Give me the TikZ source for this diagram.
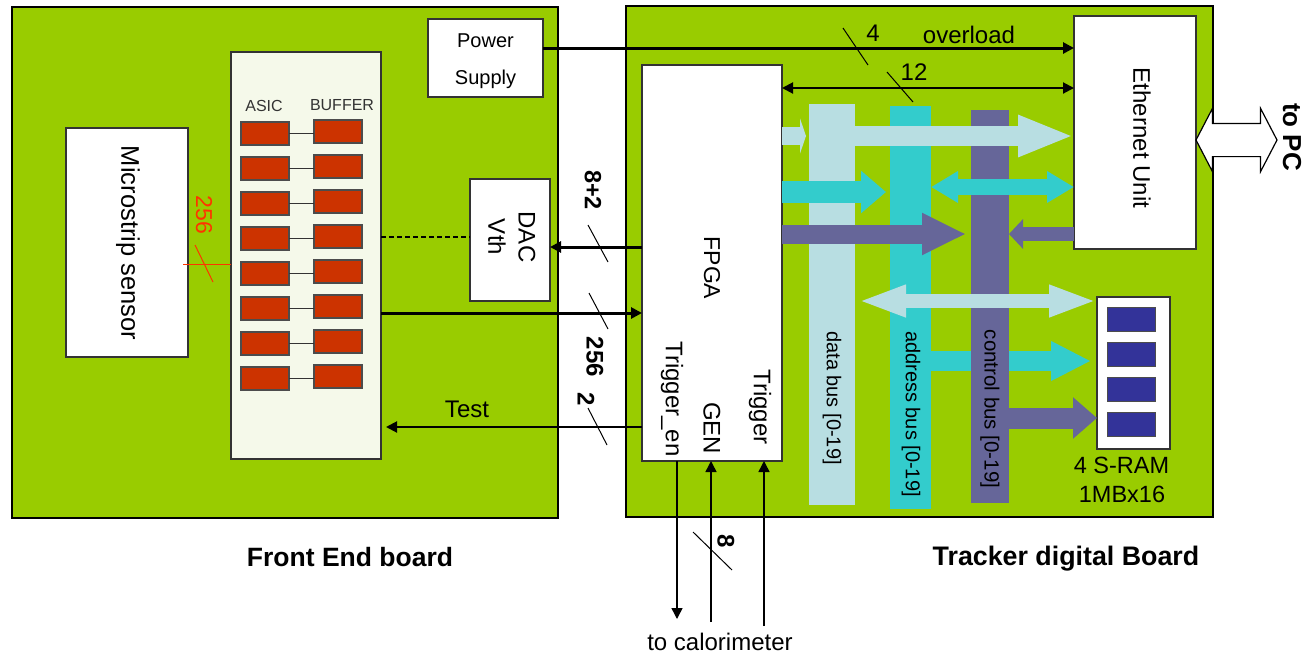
\documentclass[tikz,border=0pt]{standalone}
\usepackage{xcolor}
\usepackage{fontspec}
\setmainfont{Liberation Sans}
\usepackage{tikz}
\usetikzlibrary{positioning,arrows.meta,shapes.arrows,calc}
\definecolor{boardc}{HTML}{99CC00}
\definecolor{panelc}{HTML}{F5F9EA}
\definecolor{chipc}{HTML}{CC3300}
\definecolor{sramc}{HTML}{333399}
\definecolor{datac}{HTML}{B8DEE2}
\definecolor{addrc}{HTML}{33CCCC}
\definecolor{ctrlc}{HTML}{666699}
\definecolor{redc}{HTML}{FF3300}
\newcommand{\fsz}[1]{\fontsize{#1pt}{#1pt}\selectfont}

\begin{document}
\begin{tikzpicture}[
		x=1pt,y=-1pt,
		box/.style={draw=black!80,line width=1.2pt,fill=white,inner sep=0pt,outer sep=0pt,anchor=north west},
		board/.style={box,draw=black,fill=boardc},
		bar/.style={inner sep=0pt,outer sep=0pt,anchor=north west},
		chip/.style={draw=black!70,line width=1.2pt,fill=chipc,inner sep=0pt,outer sep=0pt,minimum width=48pt,minimum height=23pt},
		ram/.style={draw=black!70,line width=1pt,fill=sramc,inner sep=0pt,outer sep=0pt,minimum width=48pt,minimum height=24pt},
		txt/.style={inner sep=0pt,font=\fsz{24}},
		vtxt/.style={txt,rotate=-90},
		ar/.style={-{Triangle[length=11pt,width=11pt]},line width=#1},
		ar/.default=2.5pt,
		tick/.style={line width=1pt},
		blk/.style n args={3}{line width=#1,-{Triangle[length=#2,width=#3]}},
		dblk/.style n args={3}{line width=#1,arrows={Triangle[length=#2,width=#3]}-{Triangle[length=#2,width=#3]}}
		]
		\useasboundingbox (0,0) rectangle (1307,654);

		% boards
		\node[board,minimum width=546pt,minimum height=511pt] (fe) at (12,7) {};
		\node[board,minimum width=587pt,minimum height=511pt] (td) at (626,6) {};
		\node[txt,font=\bfseries\fsz{26.5}] (fetitle) at (350,557) {Front End board};
		\node[txt,font=\bfseries\fsz{26.8}] (tdtitle) at (1066,559) {Tracker digital Board};

		% front end board
		\node[box,minimum width=122pt,minimum height=229pt] (sensor) at (66,128) {};
		\node[vtxt,font=\fsz{25.5}] (sensortxt) at (128,243) {Microstrip sensor};
		\node[box,fill=panelc,minimum width=150pt,minimum height=407pt] (panel) at (231,52) {};
		\node[box,minimum width=115pt,minimum height=78pt] (power) at (428,19) {};
		\node[txt,align=center,font=\fontsize{20pt}{37pt}\selectfont] (powertxt) at (485.5,61) {Power\\Supply};
		\node[box,minimum width=80pt,minimum height=122pt] (dac) at (470,179) {};
		\node[vtxt] (dactxt) at (527,237) {DAC};
		\node[vtxt] (vthtxt) at (497,237) {Vth};

		\foreach \i in {1,...,8} {
			\node[chip] (asic\i) at (265,{133.5+35*(\i-1)}) {};
			\node[chip,right=25pt of asic\i,yshift=2pt] (buf\i) {};
			\draw[line width=1.2pt,black!80] (asic\i.east) -- (asic\i.east -| buf\i.west);
		}
		\node[txt,font=\fsz{16},text=black!80,above=10pt of asic1,xshift=-1pt] (asictxt) {ASIC};
		\node[txt,font=\fsz{16},text=black!80,above=9pt of buf1,xshift=4pt] (buftxt) {BUFFER};

		% tracker board
		\node[box,minimum width=140pt,minimum height=396pt] (fpga) at (642,65) {};
		\node[vtxt,font=\fsz{23}] (fpgatxt) at (712,268) {FPGA};
		\node[vtxt] (trgentxt) at (672,399) {Trigger\_en};
		\node[vtxt] (gentxt) at (712,428) {GEN};
		\node[vtxt] (trgtxt) at (760,407) {Trigger};
		\node[box,minimum width=122pt,minimum height=233pt] (eth) at (1074,16) {};
		\node[vtxt] (ethtxt) at (1142,138) {Ethernet Unit};
		\node[box,minimum width=73pt,minimum height=152pt] (sram) at (1097,297) {};
		\foreach \i/\ypos in {1/319,2/354.5,3/389.5,4/424}
			\node[ram] (ram\i) at (1131,\ypos) {};
		\node[txt,below=8pt of sram,xshift=-12pt,font=\fsz{23.5}] (sramtxt) {4 S-RAM};
		\node[txt,font=\fsz{23.5}] (sramsize) at (1122,494) {1MBx16};

		% buses
		\node[bar,fill=datac,minimum width=46pt,minimum height=401pt] (dbus) at (809,104) {};
		\node[bar,fill=addrc,minimum width=41pt,minimum height=403pt] (abus) at (890,106) {};
		\draw[addrc,blk={20pt}{40pt}{37pt},shorten >=6pt] (abus.east |- 0,361) -- (sram.west |- 0,361);
		\node[bar,fill=ctrlc,minimum width=38pt,minimum height=393pt] (cbus) at (971,110) {};
		\node[vtxt,font=\fsz{20}] (dbustxt) at (832,398) {data bus [0-19]};
		\node[vtxt,font=\fsz{20}] (abustxt) at (911,414) {address bus [0-19]};
		\node[vtxt,font=\fsz{20.5}] (cbustxt) at (990,409) {control bus [0-19]};

		% block arrows
		\draw[datac,blk={18pt}{6pt}{35pt},shorten >=3pt] (fpga.east |- 0,136) -- (dbus.west |- 0,136);
		\draw[datac,blk={20pt}{56pt}{38pt}] (dbus.east |- 0,136) -- (eth.west |- 0,136);
		\draw[addrc,blk={22pt}{25pt}{41pt},shorten >=4pt] (fpga.east |- 0,192) -- (abus.west |- 0,192);
		\draw[addrc,dblk={16pt}{27pt}{30pt}] (abus.east |- 0,187) -- (eth.west |- 0,187);
		\draw[ctrlc,blk={19pt}{44pt}{39pt},shorten >=5pt] (fpga.east |- 0,234) -- (cbus.west |- 0,234);
		\draw[ctrlc,blk={14pt}{14pt}{29pt}] (eth.west |- 0,234) -- (cbus.east |- 0,234);
		\draw[datac,dblk={14pt}{48pt}{29pt},shorten <=3pt] (dbus.east |- 0,301) -- (sram.west |- 0,301);
		\draw[ctrlc,blk={21pt}{24pt}{40pt}] (cbus.east |- 0,418) -- (sram.west |- 0,418);

		% outgoing link
		\node[draw=black,fill=white,line width=1.2pt,double arrow,double arrow tip angle=125,double arrow head extend=15pt,minimum width=62pt,minimum height=81pt,inner xsep=0pt,inner ysep=16pt] (topc) at (1236.5,140) {};
		\node[vtxt,font=\bfseries\fsz{26}] (topctxt) at (1292,137) {to PC};

		% signal lines
		\draw[ar=3pt] (power.east |- 0,48) -- (eth.west |- 0,48);
		\draw[ar=2pt,arrows={Triangle[length=11pt,width=11pt]}-{Triangle[length=11pt,width=11pt]}] (fpga.east |- 0,88) -- (eth.west |- 0,88);
		\draw[ar=3pt] (fpga.west |- 0,247) -- (dac.east |- 0,247);
		\draw[ar=3pt] (panel.east |- 0,313) -- (fpga.west |- 0,313);
		\draw[ar=2pt,shorten >=5pt] (fpga.west |- 0,427) -- (panel.east |- 0,427);
		\draw[line width=1.3pt,dash pattern=on 5pt off 3pt] (panel.east |- 0,237) -- (dac.west |- 0,237);
		\coordinate (trgen) at (677,619);
		\coordinate (genin) at (711,622);
		\coordinate (trgin) at (764,626);
		\draw[ar=1.5pt] (fpga.south -| trgen) -- (trgen);
		\draw[ar=1.5pt] (genin) -- (genin |- fpga.south);
		\draw[ar=1.5pt] (trgin) -- (trgin |- fpga.south);
		\coordinate (redstart) at (183,264);
		\draw[redc,line width=1pt] (redstart) -- (redstart -| panel.west);
		\draw[redc,line width=1pt] (195,245) -- (213,282);

		% bit count ticks
		\foreach \xa/\ya/\xb/\yb in {588/225/608/262,589/293/608/329,588/408/607/445,843/28/868/65,887/72/913/102,693/532/732/570}
			\draw[tick] (\xa,\ya) -- (\xb,\yb);

		% labels
		\node[vtxt,font=\fsz{23},text=redc] (redcnt) at (204,215) {256};
		\node[vtxt,font=\bfseries\fsz{23.5}] (cntdac) at (593,190) {8+2};
		\node[vtxt,font=\bfseries\fsz{24}] (cntfe) at (595,357) {256};
		\node[vtxt,font=\bfseries\fsz{24}] (cnttest) at (586,399) {2};
		\node[vtxt,font=\bfseries\fsz{24}] (cntgen) at (726,541) {8};
		\node[txt] (testtxt) at (467,409) {Test};
		\node[txt] (ovltxt) at (969,35) {overload};
		\node[txt] (cnt4) at (873,33) {4};
		\node[txt] (cnt12) at (914,72) {12};
		\node[txt] (calotxt) at (720,642) {to calorimeter};

	\end{tikzpicture}
\end{document}
